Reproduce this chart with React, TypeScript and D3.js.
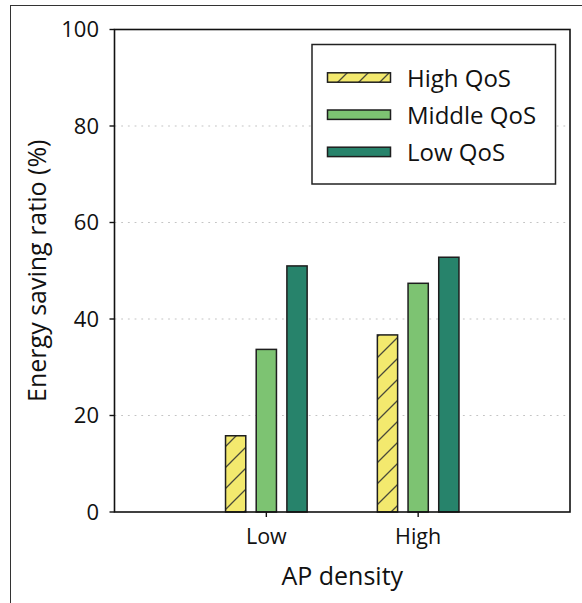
import * as React from "react";
import * as d3 from "d3";

const categories = ["Low", "High"];
const seriesNames = ["High QoS", "Middle QoS", "Low QoS"];
const highQoS = [15.8, 36.7];
const middleQoS = [33.7, 47.4];
const lowQoS = [51.0, 52.8];
const yTicks = [0, 20, 40, 60, 80, 100];

const colors = ["#f3e96e", "#7dc372", "#27836b"];
const FONT = "'Open Sans', sans-serif";

function drawChart(svgRef: React.RefObject<SVGSVGElement>) {
  const svg = d3.select(svgRef.current);
  svg.selectAll("*").remove();

  const left = 114.5, right = 570, top = 29.5, bottom = 512;
  const values = [highQoS, middleQoS, lowQoS];

  const x = d3.scalePoint<string>().domain(categories).range([left, right]).padding(1);
  const xs = d3.scaleBand<string>().domain(seriesNames).range([-40.8, 40.8]).paddingInner(0.34);
  const y = d3.scaleLinear().domain([0, 100]).range([bottom, top]);

  // hatch pattern
  const defs = svg.append("defs");
  const pat = defs
    .append("pattern")
    .attr("id", "hatch")
    .attr("patternUnits", "userSpaceOnUse")
    .attr("width", 21)
    .attr("height", 21);
  pat.append("rect").attr("width", 21).attr("height", 21).attr("fill", colors[0]);
  pat
    .append("path")
    .attr("d", "M0,21 L21,0 M-5,5 L5,-5 M16,26 L26,16")
    .attr("stroke", "#4a4a3a")
    .attr("stroke-width", 1.3);

  // outer frame
  svg
    .append("rect")
    .attr("x", 10.5)
    .attr("y", 5.5)
    .attr("width", 700)
    .attr("height", 700)
    .attr("fill", "none")
    .attr("stroke", "#333")
    .attr("stroke-width", 1);

  // gridlines
  svg
    .append("g")
    .selectAll("line")
    .data(yTicks.filter((t) => t > 0 && t < 100))
    .enter()
    .append("line")
    .attr("x1", left)
    .attr("x2", right)
    .attr("y1", (d) => y(d))
    .attr("y2", (d) => y(d))
    .attr("stroke", "#c4c4c4")
    .attr("stroke-width", 1.2)
    .attr("stroke-dasharray", "1.8,4.9");

  // bars
  seriesNames.forEach((s, si) => {
    svg
      .append("g")
      .selectAll("rect")
      .data(categories)
      .enter()
      .append("rect")
      .attr("x", (c) => (x(c) as number) + (xs(s) as number))
      .attr("width", xs.bandwidth())
      .attr("y", (_, i) => y(values[si][i]))
      .attr("height", (_, i) => bottom - y(values[si][i]))
      .attr("fill", si === 0 ? "url(#hatch)" : colors[si])
      .attr("stroke", "#1e1e1e")
      .attr("stroke-width", 1.5);
  });

  // plot border
  svg
    .append("rect")
    .attr("x", left)
    .attr("y", top)
    .attr("width", right - left)
    .attr("height", bottom - top)
    .attr("fill", "none")
    .attr("stroke", "#111")
    .attr("stroke-width", 1.6);

  // y ticks
  const yg = svg.append("g");
  yTicks.forEach((t) => {
    yg.append("line")
      .attr("x1", left - 5)
      .attr("x2", left)
      .attr("y1", y(t))
      .attr("y2", y(t))
      .attr("stroke", "#111")
      .attr("stroke-width", 1.4);
    yg.append("text")
      .attr("x", 99)
      .attr("y", y(t))
      .attr("dy", "0.36em")
      .attr("text-anchor", "end")
      .style("font-family", FONT)
      .style("font-size", "22px")
      .attr("fill", "#111")
      .text(t);
  });

  // x ticks
  const xg = svg.append("g");
  categories.forEach((c) => {
    const cx = x(c) as number;
    xg.append("line")
      .attr("x1", cx)
      .attr("x2", cx)
      .attr("y1", bottom)
      .attr("y2", bottom + 5)
      .attr("stroke", "#111")
      .attr("stroke-width", 1.4);
    xg.append("text")
      .attr("x", cx)
      .attr("y", 543.5)
      .attr("text-anchor", "middle")
      .style("font-family", FONT)
      .style("font-size", "21.5px")
      .attr("fill", "#111")
      .text(c);
  });

  // axis labels
  svg
    .append("text")
    .attr("x", (left + right) / 2)
    .attr("y", 585)
    .attr("text-anchor", "middle")
    .style("font-family", FONT)
    .style("font-size", "25px")
    .attr("fill", "#111")
    .text("AP density");

  svg
    .append("text")
    .attr("transform", `translate(46, ${(top + bottom) / 2}) rotate(-90)`)
    .attr("text-anchor", "middle")
    .style("font-family", FONT)
    .style("font-size", "25px")
    .attr("fill", "#111")
    .text("Energy saving ratio (%)");

  // legend
  const lg = svg.append("g");
  lg.append("rect")
    .attr("x", 312)
    .attr("y", 44.5)
    .attr("width", 243.5)
    .attr("height", 139.5)
    .attr("fill", "#fff")
    .attr("stroke", "#222")
    .attr("stroke-width", 1.5);
  seriesNames.forEach((s, i) => {
    const cy = 77.5 + i * 37.2;
    lg.append("rect")
      .attr("x", 327.5)
      .attr("y", cy - 4.7)
      .attr("width", 63)
      .attr("height", 9.4)
      .attr("fill", i === 0 ? "url(#hatch)" : colors[i])
      .attr("stroke", "#1e1e1e")
      .attr("stroke-width", 1.5);
    lg.append("text")
      .attr("x", 407)
      .attr("y", cy + 9)
      .style("font-family", FONT)
      .style("font-size", "24px")
      .attr("fill", "#111")
      .text(s);
  });
}

const App: React.FunctionComponent = () => {
  const svg = React.useRef<SVGSVGElement>(null);
  React.useEffect(() => {
    drawChart(svg);
  }, [svg]);

  return (
    <svg
      ref={svg}
      width={582}
      height={603}
      style={{ position: "absolute", left: 0, top: 0, background: "#fff" }}
    />
  );
};

export default App;
